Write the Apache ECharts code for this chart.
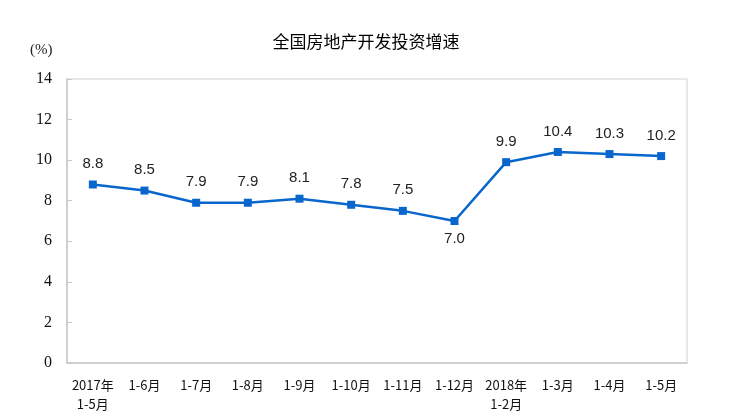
<!DOCTYPE html>
<html><head><meta charset="utf-8">
<script src="https://cdn.jsdelivr.net/npm/echarts@6/dist/echarts.min.js"></script>
<style>html,body{margin:0;padding:0;background:#fff}#c{width:732px;height:419px}</style>
</head><body><div id="c"></div>
<script>
const categories = ["2017年\n1-5月","1-6月","1-7月","1-8月","1-9月","1-10月","1-11月","1-12月","2018年\n1-2月","1-3月","1-4月","1-5月"];
const values = [8.8, 8.5, 7.9, 7.9, 8.1, 7.8, 7.5, 7.0, 9.9, 10.4, 10.3, 10.2];
const labelBelow = [false,false,false,false,false,false,false,true,false,false,false,false];
const titleText = "全国房地产开发投资增速";
const unitText = "(%)";

const chart = echarts.init(document.getElementById('c'));
chart.setOption({
  animation: false,
  title: { text: titleText, left: 'center', top: 28, textStyle: { fontSize: 17, fontWeight: 'normal', color: '#000', fontFamily: 'Noto Sans CJK SC' } },
  graphic: [{ type: 'text', left: 30, top: 43, style: { text: unitText, fontSize: 15, fill: '#222', fontFamily: 'Liberation Serif' } }],
  grid: { left: 67, right: 45, top: 79, bottom: 56, show: true, borderColor: '#d0d0d0', borderWidth: 1 },
  xAxis: {
    type: 'category', data: categories, boundaryGap: true,
    axisLine: { lineStyle: { color: '#c8c8c8', width: 1.5 } },
    axisTick: { inside: true, length: 5, lineStyle: { color: '#c8c8c8' } },
    axisLabel: { color: '#111', fontSize: 13, fontFamily: 'Noto Sans CJK SC', margin: 13, lineHeight: 19, interval: 0 }
  },
  yAxis: {
    type: 'value', min: 0, max: 14, interval: 2,
    axisLine: { show: true, lineStyle: { color: '#c8c8c8', width: 1.5 } },
    axisTick: { show: true, inside: true, length: 5, lineStyle: { color: '#c8c8c8' } },
    splitLine: { show: false },
    axisLabel: { color: '#111', fontSize: 16, fontFamily: 'Liberation Serif', margin: 15 }
  },
  series: [{
    type: 'line', data: values.map((v, i) => ({ value: v, label: { position: labelBelow[i] ? 'bottom' : 'top', distance: labelBelow[i] ? 6 : 9 } })),
    symbol: 'rect', symbolSize: 8,
    lineStyle: { color: '#0866cc', width: 2.5 },
    itemStyle: { color: '#0866cc' },
    label: { show: true, color: '#222', fontSize: 15, fontFamily: 'Liberation Sans', formatter: p => p.value.toFixed(1) }
  }]
});
</script></body></html>
